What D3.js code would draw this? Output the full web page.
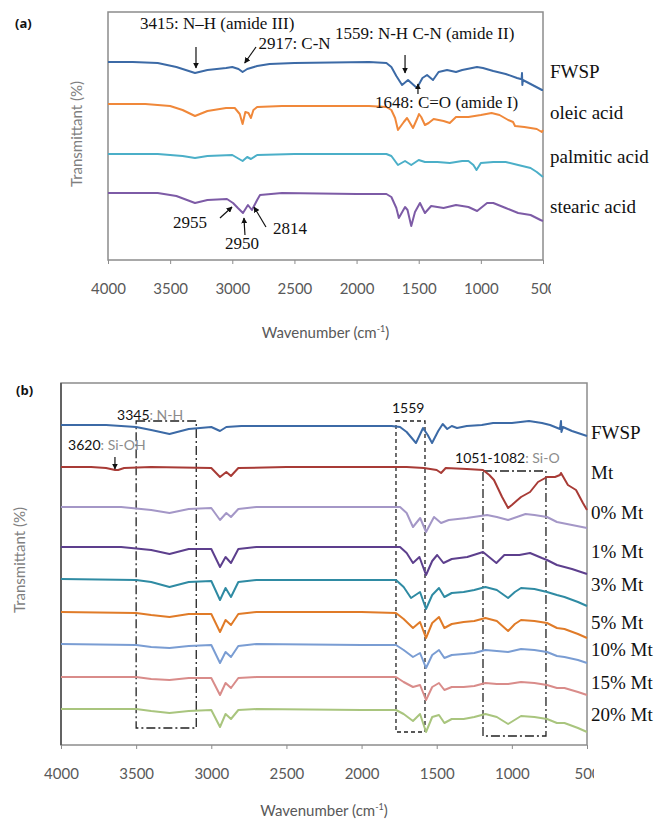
<html lang="en">
<head>
    <meta charset="utf-8">
    <title>FTIR spectra</title>
    <script src="https://cdn.jsdelivr.net/npm/d3@7"></script>
    <style>
        body { margin: 0; background: #fff; }
        svg { display: block; }
    </style>
</head>
<body>
<script>
    // ---------------- data (wavenumber, transmittance a.u.) ----------------
    const xTicks = [4000, 3500, 3000, 2500, 2000, 1500, 1000, 500];

    // panel (a)
    const namesA = ["FWSP", "oleic acid", "palmitic acid", "stearic acid"];
    const colorsA = ["#3c6aa6", "#f0883a", "#4bafc8", "#7d5ba6"];
    const labelValA = [182, 141, 97, 47];

    const fwspA = [[4000,198],[3800,198],[3600,197],[3450,193],[3300,187],[3200,190],[3050,192],[3000,193],[2950,191],[2917,188],[2880,191],[2800,194],[2700,196],[2500,197],[2200,197.5],[1900,198],[1760,197],[1720,193],[1680,184],[1634,175],[1586,180],[1514,172],[1470,182],[1433,185],[1385,180],[1340,188],[1272,190],[1200,188],[1150,190],[1031,193],[983,192],[900,189],[800,186],[709,182],[680,181],[672,181],[669,187],[666,175],[662,180],[600,176],[508,170],[500,170]];
    const oleic = [[4000,156],[3700,156],[3500,154],[3400,150],[3300,144],[3200,149],[3050,152],[2980,152],[2940,146],[2917,136],[2895,148],[2870,147],[2850,142],[2830,150],[2800,153],[2600,154],[2200,154],[1900,154],[1760,153],[1720,150],[1690,142],[1667,130],[1620,138],[1594,142],[1546,132],[1510,142],[1498,146],[1480,143],[1450,135],[1420,137],[1380,141],[1300,139],[1250,137],[1200,143],[1100,143],[1000,145],[914,147],[850,145],[780,140],[741,138],[725,134],[650,133],[550,131],[510,128],[500,130]];
    const palmitic = [[4000,106],[3600,106],[3400,104],[3300,102],[3200,104],[3000,105],[2917,99],[2880,103],[2850,101],[2800,105],[2500,106],[2000,106],[1760,106],[1720,104],[1667,95],[1610,99],[1560,95],[1500,100],[1450,98],[1350,98],[1250,97],[1150,99],[1100,99],[1060,95],[1035,90],[1000,97],[900,98],[800,98],[700,95],[600,92],[550,88],[500,83]];
    const stearic = [[4000,67],[3600,67],[3450,64],[3300,57],[3200,60],[3043,61],[2994,57],[2955,52],[2914,47],[2874,55],[2842,50],[2800,60],[2777,65],[2600,67],[2000,66],[1760,66],[1720,63],[1680,52],[1660,42],[1610,53],[1590,50],[1560,34],[1530,48],[1490,57],[1450,47],[1400,54],[1300,52],[1200,55],[1100,53],[1030,49],[950,57],[900,57],[800,52],[700,47],[600,45],[520,40],[500,39]];
    const seriesA = [fwspA, oleic, palmitic, stearic];

    // annotations of (a): text [w, v, label] and arrows [w1, v1, w2, v2]
    const notesA = [[3743,231,"3415: N–H (amide III)"],[2790,211,"2917: C-N"],[2174,221,"1559: N-H C-N (amide II)"],[1852,152,"1648: C=O (amide I)"],[3477,32,"2955"],[3059,11,"2950"],[2672,26,"2814"]];
    const arrowsA = [[3292,213,3292,192],[2809,213,2900,197],[1610,205,1610,187],[1506,166,1506,176],[3099,42,3002,53],[2898,25,2906,42],[2729,33,2825,53]];

    // panel (b)
    const namesB = ["FWSP", "Mt", "0% Mt", "1% Mt", "3% Mt", "5% Mt", "10% Mt", "15% Mt", "20% Mt"];
    const colorsB = ["#3c6aa6", "#a83b36", "#a497c7", "#5d3f8d", "#2f8ba3", "#e07b28", "#7a9dd3", "#d98c8a", "#a9c57e"];
    const labelValB = [306, 266, 226, 187, 154, 116, 89, 56, 24];

    const fwspB = [[4000,320],[3700,320],[3500,318],[3400,315],[3278,311],[3150,316],[3000,318],[2942,314],[2900,318],[2800,319],[2500,319],[2000,319],[1800,319],[1744,318],[1700,313],[1638,302],[1591,317],[1560,310],[1531,302],[1490,314],[1460,321],[1430,316],[1400,319],[1365,317],[1300,319],[1200,320],[1125,322],[1000,322],[886,324],[800,322],[746,320],[680,316],[673,324],[670,313],[660,318],[600,314],[500,309]];
    const mt = [[4000,278],[3800,278],[3700,277],[3640,275],[3620,275],[3580,277],[3400,278],[3000,277],[2942,268],[2900,273],[2869,269],[2820,277],[2500,278],[2000,278],[1700,278],[1585,277],[1500,275],[1471,272],[1440,277],[1300,276],[1192,275],[1150,270],[1119,265],[1065,248],[1025,237],[1000,240],[970,244],[939,248],[879,253],[826,263],[766,268],[713,268],[680,270],[673,272],[650,266],[627,260],[573,255],[527,242],[500,235]];
    const mt0 = [[4000,238],[3600,238],[3400,235],[3278,232],[3150,236],[3000,237],[2942,225],[2900,232],[2869,228],[2820,236],[2700,238],[2000,238],[1744,238],[1700,232],[1658,218],[1610,227],[1571,213],[1518,228],[1471,222],[1420,225],[1300,227],[1165,230],[1100,228],[1025,225],[909,231],[850,230],[766,228],[700,223],[600,220],[500,217]];
    const mt1 = [[4000,198],[3600,198],[3400,195],[3278,191],[3150,196],[3000,196],[2942,178],[2905,188],[2869,182],[2820,196],[2700,198],[2000,198],[1744,198],[1700,192],[1658,182],[1615,188],[1571,170],[1530,184],[1497,190],[1455,182],[1400,186],[1297,188],[1192,193],[1103,182],[1050,190],[950,190],[879,192],[800,187],[766,185],[700,180],[600,176],[500,171]];
    const mt3 = [[4000,166],[3500,165],[3400,163],[3278,158],[3150,163],[3000,164],[2942,145],[2905,157],[2869,148],[2820,163],[2700,165],[2000,165],[1771,165],[1720,158],[1671,147],[1611,153],[1571,136],[1530,150],[1485,157],[1449,148],[1400,152],[1321,153],[1250,155],[1176,158],[1100,155],[1025,147],[980,153],[939,157],[850,156],[766,153],[700,150],[650,148],[560,143],[500,139]];
    const mt5 = [[4000,133],[3500,132],[3400,130],[3278,128],[3150,131],[3000,131],[2942,113],[2905,125],[2869,120],[2820,131],[2700,133],[2000,133],[1771,132],[1720,126],[1658,117],[1611,123],[1571,107],[1530,122],[1485,128],[1449,117],[1400,121],[1321,123],[1250,124],[1176,127],[1100,124],[1025,114],[980,121],[939,125],[850,124],[766,122],[700,117],[650,116],[560,111],[500,107]];
    const mt10 = [[4000,101],[3500,100],[3400,98],[3278,97],[3150,99],[3000,100],[2942,82],[2905,93],[2869,88],[2820,99],[2700,101],[2000,100],[1771,100],[1720,95],[1658,88],[1611,92],[1571,77],[1530,90],[1485,95],[1449,87],[1400,90],[1321,91],[1250,92],[1176,95],[1100,94],[1025,93],[939,96],[850,95],[766,93],[700,89],[650,88],[560,85],[500,82]];
    const mt15 = [[4000,68],[3500,68],[3400,66],[3278,65],[3150,67],[3000,67],[2942,50],[2905,62],[2869,57],[2820,67],[2700,68],[2000,68],[1771,68],[1720,63],[1658,58],[1611,60],[1571,45],[1530,58],[1485,62],[1449,55],[1400,58],[1321,58],[1250,59],[1176,62],[1100,61],[1025,61],[939,63],[850,62],[766,60],[700,57],[650,57],[560,53],[500,50]];
    const mt20 = [[4000,36],[3500,36],[3400,34],[3278,32],[3150,34],[3000,35],[2942,18],[2905,31],[2869,26],[2820,35],[2700,36],[2000,35],[1771,35],[1720,31],[1658,24],[1611,31],[1571,13],[1530,28],[1485,30],[1449,22],[1400,26],[1321,26],[1250,28],[1176,31],[1100,28],[1025,21],[939,29],[850,28],[766,26],[700,22],[650,22],[560,17],[500,13]];
    const seriesB = [fwspB, mt, mt0, mt1, mt3, mt5, mt10, mt15, mt20];

    // annotations of (b): boxes [w1, w2, vTop, vBottom, dash], texts [w, v, dark part, grey part]
    const boxesB = [[3500,3100,324,17,"9,3,2,3"],[1771,1578,324,13,"4,3"],[1192,773,274,9,"9,3,2,3"]];
    const notesB = [[3627,325,"3345",": N-H"],[3953,295,"3620",": Si-OH"],[1798,332,"1559",""],[1378,282,"1051-1082",": Si-O"]];
    const arrowsB = [[3641,288,3641,276]];

    // ---------------- drawing ----------------
    const svg = d3.select("body").append("svg")
        .attr("width", 665).attr("height", 822);

    const defs = svg.append("defs");
    defs.append("marker")
        .attr("id", "head")
        .attr("viewBox", "0 0 10 10")
        .attr("refX", 9).attr("refY", 5)
        .attr("markerWidth", 6).attr("markerHeight", 6)
        .attr("markerUnits", "userSpaceOnUse")
        .attr("orient", "auto")
        .append("path").attr("d", "M0,0 L10,5 L0,10 z").attr("fill", "#111");

    function drawPanel(p) {
        const x = d3.scaleLinear().domain([4000, 500]).range([p.left, p.right]);
        const y = d3.scaleLinear().domain([0, p.bottom - p.top]).range([p.bottom, p.top]);
        const g = svg.append("g");

        // tick labels (last one is cut off in the original), clip in the axis' own space
        defs.append("clipPath").attr("id", "clip" + p.id)
            .append("rect").attr("x", 0).attr("y", -5).attr("width", p.right + p.clipGap).attr("height", 60);

        const axis = g.append("g")
            .attr("transform", `translate(0,${p.bottom})`)
            .attr("clip-path", `url(#clip${p.id})`)
            .call(d3.axisBottom(x).tickValues(xTicks).tickSize(4).tickPadding(19).tickFormat(d3.format("d")));
        axis.select(".domain").remove();
        axis.selectAll("line").attr("stroke", "#8c8c8c");
        axis.selectAll("text")
            .attr("fill", "#595959")
            .style("font-family", "Lato, 'Open Sans', sans-serif")
            .style("font-size", "15px");

        // frame
        g.append("rect")
            .attr("x", p.left).attr("y", p.top)
            .attr("width", p.right - p.left).attr("height", p.bottom - p.top)
            .attr("fill", "none").attr("stroke", "#8c8c8c").attr("stroke-width", 1.5);
        if (p.darkLeft) {
            g.append("line")
                .attr("x1", p.left).attr("x2", p.left).attr("y1", p.top).attr("y2", p.bottom)
                .attr("stroke", "#4d4d4d").attr("stroke-width", 1.5);
        }

        // dashed boxes
        (p.boxes || []).forEach(b => {
            g.append("rect")
                .attr("x", x(b[0])).attr("y", y(b[2]))
                .attr("width", x(b[1]) - x(b[0])).attr("height", y(b[3]) - y(b[2]))
                .attr("fill", "none").attr("stroke", "#222").attr("stroke-width", 1.3)
                .attr("stroke-dasharray", b[4]);
        });

        // spectra
        const line = d3.line().x(d => x(d[0])).y(d => y(d[1]));
        p.series.forEach((s, i) => {
            g.append("path")
                .datum(s)
                .attr("d", line)
                .attr("fill", "none")
                .attr("stroke", p.colors[i])
                .attr("stroke-width", 2)
                .attr("stroke-linejoin", "round");
        });

        // series names at the right
        p.names.forEach((n, i) => {
            g.append("text")
                .attr("x", p.right + p.labelGap)
                .attr("y", y(p.labelVals[i]))
                .style("font-family", "'Liberation Serif', 'Times New Roman', serif")
                .style("font-size", p.labelSize + "px")
                .attr("fill", "#111")
                .text(n);
        });

        // arrows
        (p.arrows || []).forEach(a => {
            g.append("line")
                .attr("x1", x(a[0])).attr("y1", y(a[1]))
                .attr("x2", x(a[2])).attr("y2", y(a[3]))
                .attr("stroke", "#111").attr("stroke-width", 1.2)
                .attr("marker-end", "url(#head)");
        });

        // axis titles
        const t = g.append("text")
            .attr("x", (p.left + p.right) / 2)
            .attr("y", p.bottom + p.titleGap)
            .attr("text-anchor", "middle")
            .attr("fill", "#595959")
            .style("font-family", "Lato, 'Open Sans', sans-serif")
            .style("font-size", "15px");
        t.append("tspan").text("Wavenumber (cm");
        t.append("tspan").attr("dy", -6).style("font-size", "9px").text("-1");
        t.append("tspan").attr("dy", 6).text(")");

        g.append("text")
            .attr("transform", `translate(${p.yTitleX},${p.yTitleY}) rotate(-90)`)
            .attr("text-anchor", "middle")
            .attr("fill", "#7f7f7f")
            .style("font-family", "Lato, 'Open Sans', sans-serif")
            .style("font-size", "15px")
            .text("Transmittant (%)");

        g.append("text")
            .attr("x", p.tagX).attr("y", p.tagY)
            .style("font-family", "'Open Sans', sans-serif")
            .style("font-weight", "bold")
            .style("font-size", "13px")
            .attr("fill", "#111")
            .text(p.tag);

        return {g, x, y};
    }

    // panel (a)
    const pa = drawPanel({
        id: "a", left: 108, right: 543, top: 12, bottom: 260, titleGap: 78, clipGap: 8,
        series: seriesA, colors: colorsA, names: namesA, labelVals: labelValA,
        labelGap: 7, labelSize: 19, arrows: arrowsA,
        yTitleX: 82, yTitleY: 134, tag: "(a)", tagX: 15, tagY: 28
    });
    notesA.forEach(n => {
        pa.g.append("text")
            .attr("x", pa.x(n[0])).attr("y", pa.y(n[1]))
            .style("font-family", "'Liberation Serif', 'Times New Roman', serif")
            .style("font-size", "17px")
            .attr("fill", "#111")
            .text(n[2]);
    });

    // panel (b)
    const pb = drawPanel({
        id: "b", left: 61, right: 587, top: 383, bottom: 745, titleGap: 71, clipGap: 7,
        series: seriesB, colors: colorsB, names: namesB, labelVals: labelValB,
        labelGap: 4, labelSize: 19, arrows: arrowsB, boxes: boxesB, darkLeft: true,
        yTitleX: 25, yTitleY: 560, tag: "(b)", tagX: 16, tagY: 395
    });
    notesB.forEach(n => {
        const t = pb.g.append("text")
            .attr("x", pb.x(n[0])).attr("y", pb.y(n[1]))
            .style("font-family", "Lato, 'Open Sans', sans-serif")
            .style("font-size", "14px");
        t.append("tspan").attr("fill", "#111").text(n[2]);
        t.append("tspan").attr("fill", "#8c8c8c").text(n[3]);
    });
</script>
</body>
</html>
